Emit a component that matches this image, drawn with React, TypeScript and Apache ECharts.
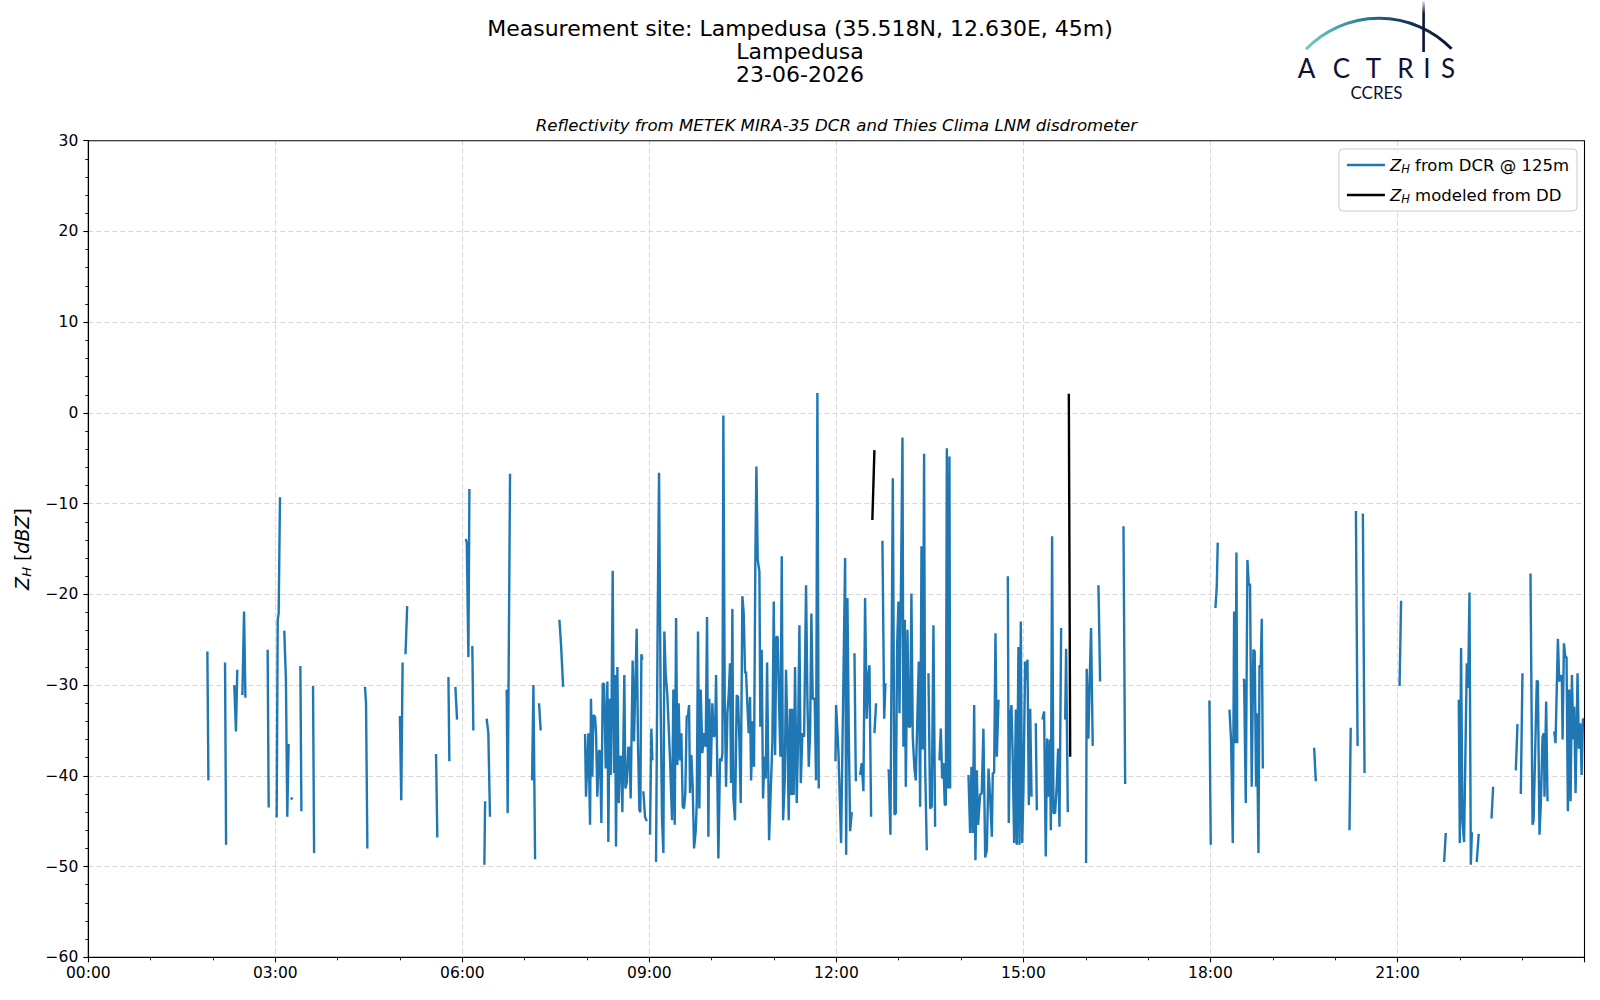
import React, { useEffect, useRef } from "react";
import * as echarts from "echarts";

const FONT = "DejaVu Sans";

const titleLines = [
  "Measurement site: Lampedusa (35.518N, 12.630E, 45m)",
  "Lampedusa",
  "23-06-2026",
];
const subtitle = "Reflectivity from METEK MIRA-35 DCR and Thies Clima LNM disdrometer";
const xTickLabels = ["00:00", "03:00", "06:00", "09:00", "12:00", "15:00", "18:00", "21:00", "24:00"];
const yTicks = { min: -60, max: 30, step: 10 };
const legendNames = ["dcr", "dd"];

// minutes after 00:00 UTC, reflectivity in dBZ; null = data gap
const dcrSamples: ([number, number] | null)[] = [
  [114.6, -26.3], [115.6, -40.5], null,
  [131.6, -27.5], [132.6, -47.6], null,
  [140.5, -30.0], [142.1, -35.1], [143.4, -28.3], null,
  [148.3, -31.1], [149.9, -21.9], [151.2, -31.4], null,
  [172.6, -26.1], [173.6, -43.5], null,
  [181.3, -44.6], [182.3, -22.8], [183.2, -22.1], [184.5, -9.3], null,
  [188.6, -24.0], [190.2, -29.4], [191.5, -44.5], [192.8, -36.5], null,
  [195.0, -42.6], [196.5, -42.4], null,
  [204.1, -27.9], [205.1, -43.9], null,
  [216.3, -30.1], [217.3, -48.5], null,
  [266.3, -30.2], [267.3, -32.0], [268.6, -48.0], null,
  [299.9, -33.4], [301.2, -42.7], [302.5, -27.5], null,
  [305.3, -26.6], [306.9, -21.3], null,
  [334.7, -37.6], [335.9, -46.8], null,
  [346.6, -29.1], [347.5, -38.4], null,
  [353.3, -30.2], [354.9, -33.8], null,
  [363.3, -13.9], [364.3, -14.3], [365.8, -26.9], [366.8, -8.4], null,
  [369.6, -25.7], [370.6, -35.0], null,
  [381.2, -49.8], [381.9, -42.8], null,
  [383.4, -33.7], [385.0, -35.3], [386.6, -44.5], null,
  [402.7, -30.5], [403.6, -44.1], [405.9, -6.7], null,
  [427.1, -40.5], [428.4, -30.0], [430.0, -49.2], null,
  [433.8, -32.0], [435.4, -35.0], null,
  [453.4, -22.8], [455.0, -25.6], [457.0, -30.2], null,
  [478.1, -35.4], [479.0, -42.3], [481.3, -35.3], [482.9, -45.4], [483.8, -31.5], [485.1, -40.1],
  [486.1, -33.3], [487.7, -33.5], [488.7, -35.3], [489.9, -42.3], [491.5, -37.2], [492.5, -37.3],
  [493.8, -45.2], [495.1, -29.8], [496.4, -29.9], [497.3, -35.0], [498.0, -39.2], [499.6, -29.6],
  [500.5, -47.3], [501.8, -31.5], [502.8, -39.9], [503.7, -31.3], [504.7, -17.4], [506.0, -39.7],
  [506.9, -28.9], [507.9, -47.8], [509.2, -28.0], [510.5, -43.0], [511.8, -37.9], [513.0, -37.9],
  [514.0, -44.0], [515.9, -28.9], [516.9, -41.4], [518.2, -40.8], [519.8, -36.8], [520.7, -37.0],
  [522.0, -42.5], [523.9, -27.3], [525.2, -36.2], [527.8, -23.8], [529.1, -36.8], [530.4, -43.8],
  [531.3, -44.0], [532.3, -26.6], [533.3, -27.2], null,
  [534.2, -41.7], [535.8, -44.5], [537.4, -45.0], null,
  [540.6, -46.5], [541.9, -34.8], [542.9, -38.3], null,
  [546.4, -49.5], [548.0, -22.8], [549.3, -6.6], [550.9, -32.6], [552.2, -44.9], [553.5, -48.5],
  [554.4, -24.1], [555.7, -28.7], [557.3, -31.1], [559.9, -38.3], [561.8, -44.9], [563.1, -30.5],
  [564.4, -45.4], [565.7, -22.6], [566.9, -38.8], [568.2, -32.0], [569.5, -38.3], [570.8, -35.3],
  [572.1, -43.4], [573.4, -43.6], [574.6, -41.9], [575.9, -33.5], [577.2, -33.3], [578.2, -32.2],
  [579.1, -41.9], [580.4, -37.7], [581.7, -41.2], [583.0, -48.0], [584.6, -46.1], [585.6, -43.0],
  [586.8, -24.1], [588.1, -43.6], [589.4, -30.5], [591.0, -37.5], [592.6, -35.3], [594.2, -36.8],
  [595.5, -22.5], [596.8, -46.7], [597.7, -31.5], [599.0, -40.1], [600.6, -32.0], [601.9, -35.7],
  [603.2, -35.5], [604.2, -28.9], [606.4, -49.1], [608.0, -38.1], [609.3, -38.4], [610.3, -37.5],
  [611.2, -0.3], [612.5, -31.3], [613.8, -41.2], [615.1, -33.1], [616.4, -30.9], [617.6, -27.6],
  [618.6, -40.8], [619.9, -21.6], [620.8, -42.3], [622.4, -44.9], [624.1, -31.1], [625.3, -31.3],
  [626.6, -36.0], [627.9, -43.0], [629.5, -20.2], [630.8, -22.1], [632.1, -28.7], [633.0, -28.5],
  [634.3, -32.2], [635.6, -35.3], [636.9, -31.3], [637.9, -40.5], [639.5, -34.0], [640.7, -39.0],
  [642.0, -16.2], [643.0, -5.9], [644.3, -16.2], [645.9, -17.5], [646.8, -34.6], [648.1, -26.1],
  [649.4, -42.5], [650.7, -37.9], [652.0, -40.3], [653.3, -27.5], [655.2, -47.1], [658.4, -36.2],
  [659.7, -20.8], [661.0, -37.7], [662.2, -24.7], [663.5, -24.7], [664.8, -32.0], [666.1, -37.9],
  [667.4, -15.8], [668.7, -44.9], [670.3, -40.5], [671.5, -28.3], [672.8, -34.8], [674.1, -44.9],
  [675.4, -32.6], [676.7, -42.1], [677.6, -32.6], [678.9, -42.1], [680.2, -28.0], [681.8, -43.0],
  [683.1, -36.0], [684.4, -23.4], [685.7, -40.8], [687.3, -35.3], [688.9, -35.7], [690.8, -19.0],
  [692.1, -31.6], [693.4, -39.0], [694.7, -35.3], [695.9, -22.1], [697.2, -31.5], [699.1, -31.5],
  [700.4, -40.5], [701.7, 2.2], [703.0, -41.4], null,
  [719.1, -38.4], [719.7, -32.2], [722.0, -37.5], [724.5, -47.4], [728.4, -16.0], [729.4, -48.7],
  [730.6, -20.4], [731.9, -35.0], [733.2, -46.1], [734.8, -44.0], null,
  [737.4, -26.5], [738.7, -40.6], null,
  [742.8, -39.9], [744.4, -38.6], [746.0, -41.7], [747.6, -20.4], [749.2, -33.7], [750.9, -28.7],
  [751.8, -27.8], [753.4, -44.5], null,
  [756.6, -35.3], [758.2, -32.0], null,
  [764.3, -14.1], [766.0, -33.7], [767.2, -29.8], null,
  [769.1, -39.4], [770.4, -39.4], [772.0, -46.5], [774.3, -7.2], [775.9, -44.3], [777.2, -44.1],
  [778.4, -25.8], [779.7, -20.8], [780.7, -33.1], [782.0, -20.6], [783.6, -2.7], [784.5, -36.8],
  [785.8, -22.8], [786.8, -41.2], [788.4, -23.9], [789.7, -34.6], [791.0, -34.6], [792.2, -19.9],
  [793.5, -35.7], [795.1, -39.2], [796.4, -40.5], [798.0, -33.1], [799.3, -27.4], [800.6, -43.4],
  [801.9, -14.7], [803.1, -37.1], [804.4, -4.5], [805.4, -38.8], [807.0, -48.2], null,
  [808.6, -28.7], [810.2, -43.6], [811.8, -43.4], [813.4, -23.4], [815.0, -45.6], null,
  [819.2, -38.3], [820.5, -34.8], [821.8, -40.3], [823.0, -38.6], [824.3, -43.2], [825.3, -43.2],
  [826.3, -3.9], [827.2, -41.4], [828.8, -4.8], [829.5, -41.4], null,
  [847.1, -39.9], [848.7, -46.3], [850.0, -39.0], [851.3, -46.3], [852.6, -32.2], [853.8, -49.3],
  [855.1, -39.4], [856.4, -45.4], [858.3, -42.1], [859.9, -41.9], [861.5, -34.8], [863.2, -49.0],
  [864.8, -48.2], [866.4, -39.2], [868.0, -42.5], [869.6, -46.7], [870.5, -39.7], [871.8, -39.7],
  [873.1, -24.3], [874.4, -37.9], [876.0, -31.6], null,
  [885.0, -18.0], [885.9, -45.2], [887.2, -33.5], [888.5, -32.2], [889.5, -37.0], [891.1, -47.4],
  [892.7, -32.7], [893.6, -47.6], [895.2, -25.8], [896.2, -47.6], [897.5, -23.0], [898.8, -47.4],
  [900.0, -41.6], [901.7, -27.4], [902.6, -29.4], [903.9, -27.2], [905.2, -43.2], [906.5, -32.6],
  [907.8, -42.3], null,
  [911.9, -34.2], [912.9, -43.8], null,
  [918.3, -33.8], [919.9, -32.9], [921.5, -48.9], [922.8, -35.9], [924.1, -42.3], [925.4, -36.0],
  [926.4, -46.0], [927.6, -13.6], [928.9, -44.1], [930.5, -44.1], [932.1, -41.0], [933.4, -37.0],
  [934.7, -45.6], [936.3, -23.7], null,
  [940.2, -33.8], [941.1, -26.0], [942.7, -44.0], null,
  [960.3, -49.6], [960.9, -28.2], [962.5, -35.9], [963.8, -29.3], [965.1, -23.7], [966.7, -36.7], null,
  [972.2, -19.0], [973.8, -29.6], null,
  [996.3, -12.5], [997.9, -40.9], null,
  [1079.0, -31.7], [1080.3, -47.6], null,
  [1084.8, -21.5], [1086.1, -19.1], [1087.0, -14.3], null,
  [1098.3, -32.7], [1099.9, -36.2], [1101.5, -47.4], [1102.8, -21.9], [1104.1, -36.4], [1105.0, -15.4],
  [1105.8, -36.4], null,
  [1111.1, -29.4], [1112.4, -29.4], [1114.0, -43.0], [1115.6, -16.2], [1116.9, -19.0], [1118.1, -18.8],
  [1119.7, -41.2], [1121.3, -26.1], [1122.6, -26.3], [1123.9, -41.2], [1124.6, -33.1], [1126.2, -48.5],
  [1127.2, -27.8], [1128.4, -28.0], [1129.4, -22.7], [1130.4, -39.2], null,
  [1179.8, -36.9], [1181.4, -40.6], null,
  [1213.8, -46.0], [1215.0, -34.7], null,
  [1220.0, -10.8], [1221.6, -36.7], null,
  [1226.7, -11.1], [1228.3, -39.7], null,
  [1262.0, -30.1], [1263.5, -20.7], null,
  [1304.9, -49.5], [1306.5, -46.3], null,
  [1319.0, -31.6], [1320.0, -47.4], [1321.2, -25.9], [1322.5, -44.9], [1324.1, -47.3], [1326.7, -27.6],
  [1328.0, -30.3], [1329.3, -19.8], [1330.6, -49.8], [1331.6, -46.2], null,
  [1336.3, -49.5], [1338.2, -46.4], null,
  [1350.5, -44.7], [1352.1, -41.2], null,
  [1373.9, -39.4], [1375.5, -34.3], null,
  [1378.7, -42.0], [1380.3, -28.7], null,
  [1388.0, -17.7], [1390.0, -45.4], [1391.0, -44.9], [1394.1, -29.5], [1395.1, -29.6], [1396.7, -46.5],
  [1398.0, -43.0], [1399.6, -35.7], [1400.9, -35.3], [1401.5, -42.3], [1403.1, -31.8], [1404.4, -42.8], null,
  [1410.9, -35.1], [1412.1, -36.4], [1414.4, -24.9], [1415.7, -29.6], [1417.0, -29.0], [1418.2, -29.0],
  [1418.9, -36.0], [1420.2, -25.4], [1421.5, -26.9], [1422.7, -26.9], [1424.0, -43.9], [1425.3, -30.5],
  [1426.6, -42.8], [1427.9, -28.9], [1429.2, -36.0], [1430.1, -32.4], [1431.4, -41.9], [1433.3, -28.7],
  [1434.6, -37.0], [1435.9, -34.2], [1437.2, -39.9], [1438.5, -33.8], [1439.7, -33.7],
];

const ddSamples: ([number, number] | null)[] = [
  [754.6, -11.8], [756.6, -4.1], null,
  [943.7, 2.1], [945.0, -37.9],
];

const toSeriesData = (arr: ([number, number] | null)[]) =>
  arr.map((p) => (p ? p : ["-", "-"]));

const logoLetters = [
  { ch: "A", x: 1306.5 },
  { ch: "C", x: 1341.5 },
  { ch: "T", x: 1373.5 },
  { ch: "R", x: 1405.5 },
  { ch: "I", x: 1427 },
  { ch: "S", x: 1448 },
];

const GRID = { left: 88.3, right: 15.5, top: 140.7, bottom: 42.7 };

export default function App() {
  const ref = useRef<HTMLDivElement>(null);
  useEffect(() => {
    document.body.style.margin = "0";
    if (!ref.current) return;
    const chart = echarts.init(ref.current, undefined, { renderer: "svg" });
    const navy = "#0e1236";
    const txt = (text: string, x: number, y: number, extra: any) => ({
      type: "text",
      style: {
        text,
        x,
        y,
        align: "center",
        verticalAlign: "middle",
        textAlign: "center",
        textVerticalAlign: "middle",
        fill: "#000",
        fontFamily: FONT,
        ...extra,
      },
    });
    const graphic: any[] = [
      ...titleLines.map((t, i) => txt(t, 800, 28.5 + i * 23, { fontSize: 22 })),
      txt(subtitle, 836.4, 125.5, { fontSize: 16.6, fontStyle: "italic" }),
      {
        type: "arc",
        shape: { cx: 1379, cy: 119.8, r: 101.5, startAngle: -2.374, endAngle: -0.775, clockwise: true },
        style: {
          fill: null,
          lineWidth: 3,
          stroke: new echarts.graphic.LinearGradient(0, 0, 1, 0, [
            { offset: 0, color: "#74cbc6" },
            { offset: 0.35, color: "#2a8a99" },
            { offset: 0.65, color: "#1a3a5e" },
            { offset: 1, color: navy },
          ]),
        },
      },
      {
        type: "rect",
        shape: { x: 1422.3, y: 1, width: 2.6, height: 51 },
        style: {
          fill: new echarts.graphic.LinearGradient(0, 0, 0, 1, [
            { offset: 0, color: "rgba(14,18,54,0.1)" },
            { offset: 0.25, color: navy },
            { offset: 1, color: navy },
          ]),
        },
      },
      ...logoLetters.map((l) => txt(l.ch, l.x, 68, { fontSize: 26, fontFamily: "Lato", fill: navy })),
      txt("CCRES", 1376.5, 92.5, { fontSize: 17, fontFamily: "Lato", fill: navy }),
      {
        type: "rect",
        z: 100,
        silent: true,
        shape: {
          x: GRID.left,
          y: GRID.top,
          width: 1600 - GRID.left - GRID.right,
          height: 1000 - GRID.top - GRID.bottom,
        },
        style: { fill: null, stroke: "#000", lineWidth: 1.1 },
      },
    ];

    const richZ = {
      i: { fontStyle: "italic", fontFamily: FONT, fontSize: 16.5, lineHeight: 20, color: "#000" },
      h: { fontStyle: "italic", fontFamily: FONT, fontSize: 11.5, lineHeight: 12, verticalAlign: "bottom", color: "#000" },
    };
    const splitStyle = { show: true, showMinLine: false, showMaxLine: false, lineStyle: { color: "#d3d3d3", width: 0.9, type: [5, 3] } };

    chart.setOption({
      animation: false,
      backgroundColor: "#fff",
      graphic,
      grid: { ...GRID, show: false },
      legend: {
        orient: "vertical",
        right: 23,
        top: 149,
        data: legendNames,
        icon: "rect",
        itemWidth: 38,
        itemHeight: 2.5,
        itemGap: 10,
        itemTextGap: 8,
        padding: [6, 8, 6, 8],
        borderColor: "#cccccc",
        borderWidth: 1,
        borderRadius: 4,
        backgroundColor: "rgba(255,255,255,0.85)",
        selectedMode: false,
        textStyle: { fontFamily: FONT, fontSize: 16.5, lineHeight: 20, color: "#000", rich: richZ },
        formatter: (name: string) =>
          name === "dcr" ? "{i|Z}{h|H} from DCR @ 125m" : "{i|Z}{h|H} modeled from DD",
      },
      xAxis: {
        type: "value",
        min: 0,
        max: 1440,
        interval: 180,
        axisLine: { show: true, onZero: false, lineStyle: { color: "#000", width: 1.1 } },
        axisTick: { show: true, inside: false, length: 5, lineStyle: { color: "#000", width: 1.1 } },
        minorTick: { show: true, splitNumber: 3, length: 3, lineStyle: { color: "#000", width: 0.9 } },
        axisLabel: {
          show: true,
          margin: 8,
          fontFamily: FONT,
          fontSize: 15.5,
          color: "#000",
          showMaxLabel: false,
          formatter: (v: number) => xTickLabels[Math.round(v / 180)] ?? "",
        },
        splitLine: splitStyle,
      },
      yAxis: {
        type: "value",
        min: yTicks.min,
        max: yTicks.max,
        interval: yTicks.step,
        name: "{i|Z}{h|H} [{i|dBZ}]",
        nameLocation: "middle",
        nameRotate: 90,
        nameGap: 55,
        nameTextStyle: {
          fontFamily: FONT,
          fontSize: 19,
          lineHeight: 22,
          color: "#000",
          rich: {
            i: { fontStyle: "italic", fontFamily: FONT, fontSize: 19, lineHeight: 22, color: "#000" },
            h: { fontStyle: "italic", fontFamily: FONT, fontSize: 13, lineHeight: 13, verticalAlign: "bottom", color: "#000" },
          },
        },
        axisLine: { show: true, onZero: false, lineStyle: { color: "#000", width: 1.1 } },
        axisTick: { show: true, inside: false, length: 5, lineStyle: { color: "#000", width: 1.1 } },
        minorTick: { show: true, splitNumber: 5, length: 3, lineStyle: { color: "#000", width: 0.9 } },
        axisLabel: {
          margin: 10,
          fontFamily: FONT,
          fontSize: 15.5,
          color: "#000",
          formatter: (v: number) => String(v).replace("-", "\u2212"),
        },
        splitLine: splitStyle,
      },
      series: [
        {
          name: "dcr",
          type: "line",
          data: toSeriesData(dcrSamples),
          showSymbol: false,
          symbol: "none",
          connectNulls: false,
          color: "#1f77b4",
          lineStyle: { color: "#1f77b4", width: 2.4 },
          z: 3,
        },
        {
          name: "dd",
          type: "line",
          data: toSeriesData(ddSamples),
          showSymbol: false,
          symbol: "none",
          connectNulls: false,
          color: "#000000",
          lineStyle: { color: "#000000", width: 2.4 },
          z: 4,
        },
      ],
    });
    return () => chart.dispose();
  }, []);
  return <div ref={ref} style={{ width: 1600, height: 1000 }} />;
}
